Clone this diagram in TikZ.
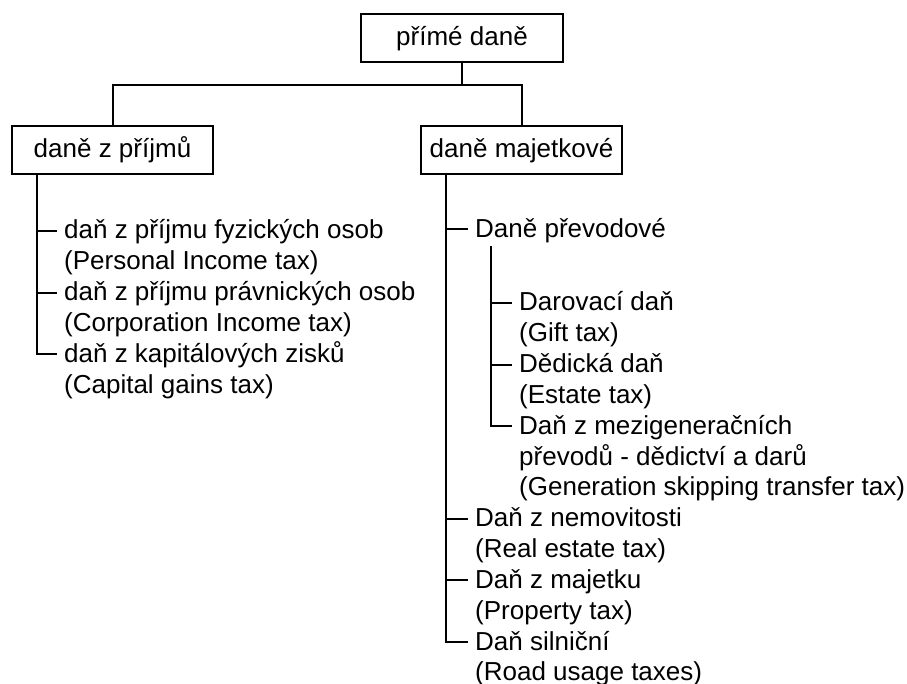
\documentclass[tikz,border=0pt]{standalone}
\usepackage{fontspec}
\setmainfont{Liberation Sans}
\begin{document}
\begin{tikzpicture}[x=1pt,y=-1pt,
  every node/.style={font=\fontsize{26}{30.8}\selectfont},
  box/.style={draw, line width=2pt, minimum width=201pt, minimum height=48pt, inner sep=0pt, text height=15pt, text depth=0pt},
  leaf/.style={anchor=base west, inner xsep=7pt, inner ysep=0pt, text height=16pt, text depth=0pt},
  sub/.style={anchor=base west, inner xsep=7pt, inner ysep=0pt},
  conn/.style={line width=2pt}]
\useasboundingbox (0,0) rectangle (907,684);
% boxes
\node[box, minimum width=202pt] (top) at (462,38) {přímé daně};
\node[box] (inc) at (112.5,150) {daně z příjmů};
\node[box] (prop) at (521.5,150) {daně majetkové};
\draw[conn] (top.south) -- ++(0,22) coordinate (mid);
\draw[conn] (inc.north) |- (mid) -| (prop.north);
% left tree
\node[leaf] (a1) at (57,239) {daň z příjmu fyzických osob};
\node[sub] (a1e) at (57,269.8) {(Personal Income tax)};
\node[leaf] (a2) at (57,300.6) {daň z příjmu právnických osob};
\node[sub] (a2e) at (57,331.4) {(Corporation Income tax)};
\node[leaf] (a3) at (57,362.2) {daň z kapitálových zisků};
\node[sub] (a3e) at (57,393) {(Capital gains tax)};
\coordinate (lt) at ([xshift=-75.5pt]inc.south);
\draw[conn] (lt) |- (a3.west);
\draw[conn] (lt |- a1.west) -- (a1.west);
\draw[conn] (lt |- a2.west) -- (a2.west);
% right tree
\node[leaf] (b1) at (468,237.5) {Daně převodové};
\node[leaf] (c1) at (512,311) {Darovací daň};
\node[sub] (c1e) at (512,341.8) {(Gift tax)};
\node[leaf] (c2) at (512,372.6) {Dědická daň};
\node[sub] (c2e) at (512,403.4) {(Estate tax)};
\node[leaf] (c3) at (512,434.2) {Daň z mezigeneračních};
\node[sub] (c3e) at (512,465) {převodů - dědictví a darů};
\node[sub] (c3f) at (512,495.8) {(Generation skipping transfer tax)};
\node[leaf] (b2) at (468,526.6) {Daň z nemovitosti};
\node[sub] (b2e) at (468,557.4) {(Real estate tax)};
\node[leaf] (b3) at (468,588.2) {Daň z majetku};
\node[sub] (b3e) at (468,619) {(Property tax)};
\node[leaf] (b4) at (468,650) {Daň silniční};
\node[sub] (b4e) at (468,680.8) {(Road usage taxes)};
\coordinate (rt) at ([xshift=-76pt]prop.south);
\draw[conn] (rt) |- (b4.west);
\draw[conn] (rt |- b1.west) -- (b1.west);
\draw[conn] (rt |- b2.west) -- (b2.west);
\draw[conn] (rt |- b3.west) -- (b3.west);
\coordinate (sb) at (491,246);
\draw[conn] (sb) |- (c3.west);
\draw[conn] (sb |- c1.west) -- (c1.west);
\draw[conn] (sb |- c2.west) -- (c2.west);
\end{tikzpicture}
\end{document}
